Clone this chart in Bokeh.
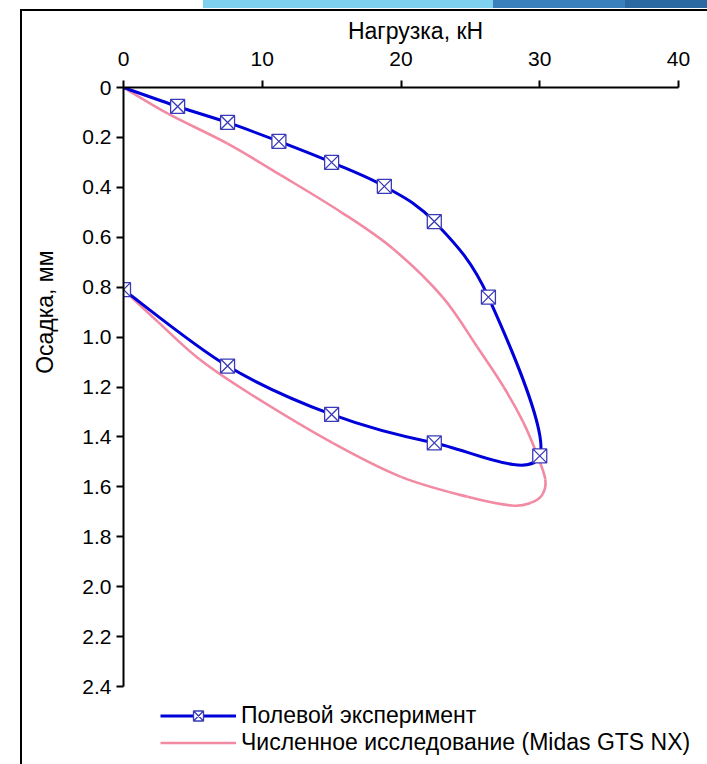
from bokeh.plotting import figure
from bokeh.models import (Range1d, FixedTicker, NumeralTickFormatter, Legend, LegendItem,
                          Title, ColumnDataSource)
from bokeh.embed import file_html
from bokeh.resources import INLINE

# ---------------- data ----------------
x_ticks = [0, 10, 20, 30, 40]
y_ticks = [0, 0.2, 0.4, 0.6, 0.8, 1.0, 1.2, 1.4, 1.6, 1.8, 2.0, 2.2, 2.4]

# field experiment (load, kN ; settlement, mm)
field_load = [0, 3.9, 7.5, 11.2, 15.0, 18.8, 22.4, 26.3, 30.0, 22.4, 15.0, 7.5, 0]
field_settle = [0, 0.076, 0.14, 0.216, 0.30, 0.396, 0.537, 0.84, 1.476, 1.424, 1.31, 1.116, 0.81]
field_marked = [False] + [True] * 12

# numerical study (Midas GTS NX)
num_load = [0, 3.2, 7.5, 11.3, 15.7, 19.4, 23.0, 25.5, 27.4, 28.8, 29.8, 30.4, 30.2,
            29.4, 28.0, 24.8, 20.0, 15.1, 9.2, 5.5, 2.5, 0]
num_settle = [0, 0.105, 0.225, 0.35, 0.50, 0.645, 0.84, 1.04, 1.20, 1.34, 1.47, 1.57, 1.63,
              1.663, 1.675, 1.64, 1.56, 1.425, 1.23, 1.09, 0.94, 0.81]

BLUE = "#0000d8"
MARK = "#3a3ab8"
PINK = "#f28aa4"
FONT = "Liberation Sans"

# plot geometry (pixels): axes from x=123..678, y=87..686 inside a 707x764 canvas
W, H = 707, 764
AX_L, AX_R, AX_T, AX_B = 123, 678, 87, 686
X0, X1 = x_ticks[0], x_ticks[-1]
Y0, Y1 = y_ticks[0], y_ticks[-1]
x_end = X1 + (W - AX_R) * (X1 - X0) / (AX_R - AX_L)
y_end = Y1 + (H - AX_B) * (Y1 - Y0) / (AX_B - AX_T)


def smooth_segments(xs, ys):
    """Control points of a smoothed (Catmull-Rom style) line through the data points."""
    n = len(xs)
    out = dict(x0=[], y0=[], x1=[], y1=[], cx0=[], cy0=[], cx1=[], cy1=[])
    for i in range(n - 1):
        xm, ym = (xs[i - 1], ys[i - 1]) if i > 0 else (xs[i], ys[i])
        xp2, yp2 = (xs[i + 2], ys[i + 2]) if i + 2 < n else (xs[i + 1], ys[i + 1])
        out["x0"].append(xs[i]); out["y0"].append(ys[i])
        out["x1"].append(xs[i + 1]); out["y1"].append(ys[i + 1])
        out["cx0"].append(xs[i] + (xs[i + 1] - xm) / 6.0)
        out["cy0"].append(ys[i] + (ys[i + 1] - ym) / 6.0)
        out["cx1"].append(xs[i + 1] - (xp2 - xs[i]) / 6.0)
        out["cy1"].append(ys[i + 1] - (yp2 - ys[i]) / 6.0)
    return ColumnDataSource(out)


p = figure(width=W, height=H, output_backend="svg", toolbar_location=None,
           x_range=Range1d(X0, x_end), y_range=Range1d(y_end, Y0), x_axis_location="above",
           min_border_left=AX_L, min_border_right=0, min_border_top=AX_T, min_border_bottom=0)
p.outline_line_color = None
p.xgrid.visible = False
p.ygrid.visible = False
p.background_fill_alpha = 0
p.border_fill_alpha = 0
# slide decoration around the chart (frame line and top band), pure CSS
p.styles = {
    "background-color": "white",
    "background-image": ("linear-gradient(#000,#000), linear-gradient(#000,#000), "
                         "linear-gradient(#2a69a2,#2a69a2), linear-gradient(#3a80bd,#3a80bd), "
                         "linear-gradient(#7fd2ef,#7fd2ef)"),
    "background-size": "2px 760px, 700px 2px, 82px 8px, 132px 8px, 290px 8px",
    "background-position": "20px 9px, 20px 9px, 625px 0px, 493px 0px, 203px 0px",
    "background-repeat": "no-repeat",
}

pink_r = p.bezier(x0="x0", y0="y0", x1="x1", y1="y1", cx0="cx0", cy0="cy0", cx1="cx1", cy1="cy1",
                  source=smooth_segments(num_load, num_settle), line_color=PINK, line_width=2.6)
blue_r = p.bezier(x0="x0", y0="y0", x1="x1", y1="y1", cx0="cx0", cy0="cy0", cx1="cx1", cy1="cy1",
                  source=smooth_segments(field_load, field_settle), line_color=BLUE, line_width=3)
mx = [x for x, m in zip(field_load, field_marked) if m]
my = [y for y, m in zip(field_settle, field_marked) if m]
mark_r = p.scatter(mx, my, marker="square_x", size=14, line_color=MARK, line_width=1.3,
                   fill_color="white")

# axes
xa = p.xaxis[0]
xa.ticker = FixedTicker(ticks=x_ticks)
xa.bounds = (X0, X1)
xa.axis_label = "Нагрузка, кН"
ya = p.yaxis[0]
ya.ticker = FixedTicker(ticks=y_ticks)
ya.bounds = (Y0, Y1)
ya.formatter = NumeralTickFormatter(format="0.0")
ya.major_label_overrides = {0: "0"}
for ax in (xa, ya):
    ax.axis_line_color = "black"
    ax.axis_line_width = 2
    ax.major_tick_line_color = "black"
    ax.major_tick_line_width = 2
    ax.major_tick_out = 7
    ax.major_tick_in = 0
    ax.minor_tick_line_color = None
    ax.major_label_text_font = FONT
    ax.major_label_text_font_size = "21px"
    ax.major_label_text_color = "black"
    ax.axis_label_text_font = FONT
    ax.axis_label_text_font_size = "23px"
    ax.axis_label_text_font_style = "normal"
    ax.axis_label_text_color = "black"
xa.major_label_standoff = 15
xa.axis_label_standoff = 5
ya.major_label_standoff = 5

p.add_layout(Title(text="Осадка, мм", align="right", offset=163, vertical_align="middle",
                   standoff=41, text_font=FONT, text_font_size="23px",
                   text_font_style="normal", text_color="black"), "left")

legend = Legend(items=[LegendItem(label="Полевой эксперимент", renderers=[blue_r, mark_r]),
                       LegendItem(label="Численное исследование (Midas GTS NX)", renderers=[pink_r])],
                location=(37, 8), orientation="vertical", glyph_width=76, glyph_height=25,
                label_standoff=5, spacing=0, padding=0, margin=0, border_line_color=None,
                background_fill_alpha=0, label_text_font=FONT, label_text_font_size="23px",
                label_text_color="black", label_height=25)
p.add_layout(legend, "center")

open("out.html", "w").write(file_html(p, INLINE))
